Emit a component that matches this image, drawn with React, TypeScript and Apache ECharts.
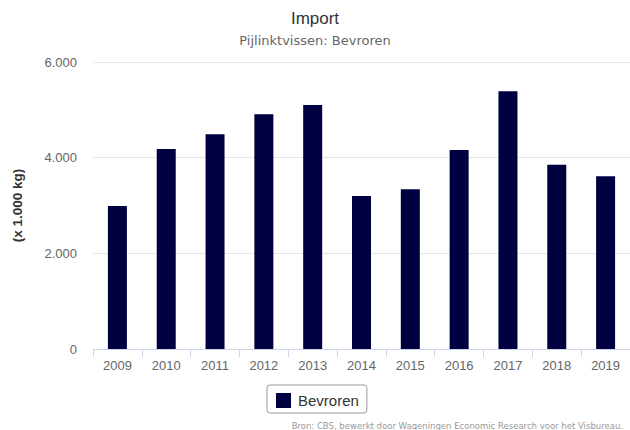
import React, { useEffect, useRef } from "react";
import * as echarts from "echarts";

const years = ["2009", "2010", "2011", "2012", "2013", "2014", "2015", "2016", "2017", "2018", "2019"];
const bevroren = [2990, 4180, 4490, 4910, 5100, 3200, 3340, 4160, 5390, 3850, 3610];
const yTicks = [0, 2000, 4000, 6000];

const fmt = (v: number) => String(v).replace(/\B(?=(\d{3})+(?!\d))/g, ".");

export default function App() {
  const ref = useRef<HTMLDivElement>(null);
  useEffect(() => {
    const chart = echarts.init(ref.current!, null, { renderer: "svg" });
    chart.setOption({
      animation: false,
      title: [
        {
          text: "Import",
          left: "center",
          top: 5,
          textStyle: { fontFamily: "Liberation Sans", fontSize: 17, fontWeight: "normal", color: "#333333" },
        },
        {
          text: "Pijlinktvissen: Bevroren",
          left: "center",
          top: 29,
          textStyle: { fontFamily: "DejaVu Sans", fontSize: 13, fontWeight: "normal", color: "#666666" },
        },
        {
          text: "Bron: CBS, bewerkt door Wageningen Economic Research voor het Visbureau.",
          right: 2,
          top: 416,
          textStyle: { fontFamily: "DejaVu Sans", fontSize: 8.5, fontWeight: "normal", color: "#999999" },
        },
      ],
      legend: {
        data: ["Bevroren"],
        left: 267,
        top: 385,
        padding: [8, 8, 5, 9],
        borderColor: "#999999",
        borderWidth: 1,
        borderRadius: 3,
        itemWidth: 15,
        itemHeight: 15,
        icon: "rect",
        textStyle: { fontFamily: "Liberation Sans", fontSize: 15, color: "#333333", padding: [0, 0, 0, 2] },
      },
      grid: { left: 93, top: 62, width: 538, height: 287 },
      xAxis: {
        type: "category",
        data: years,
        axisLine: { lineStyle: { color: "#ccd6eb" } },
        axisTick: { show: true, length: 8, lineStyle: { color: "#ccd6eb" } },
        axisLabel: { fontFamily: "Liberation Sans", fontSize: 13, color: "#666666", margin: 10 },
      },
      yAxis: {
        type: "value",
        min: yTicks[0],
        max: yTicks[yTicks.length - 1],
        interval: 2000,
        name: "(x 1.000 kg)",
        nameLocation: "middle",
        nameGap: 69,
        nameTextStyle: { fontFamily: "Liberation Sans", fontSize: 13.5, fontWeight: "bold", color: "#333333" },
        axisLine: { show: false },
        axisTick: { show: false },
        splitLine: { lineStyle: { color: "#e6e6e6" } },
        axisLabel: {
          fontFamily: "Liberation Sans",
          fontSize: 13,
          color: "#666666",
          margin: 16,
          formatter: (v: number) => fmt(v),
        },
      },
      series: [
        {
          name: "Bevroren",
          type: "bar",
          data: bevroren,
          barWidth: 19,
          itemStyle: { color: "#000040" },
        },
      ],
    });
    return () => chart.dispose();
  }, []);
  return <div ref={ref} style={{ width: 630, height: 430, position: "absolute", left: 0, top: 0 }} />;
}
